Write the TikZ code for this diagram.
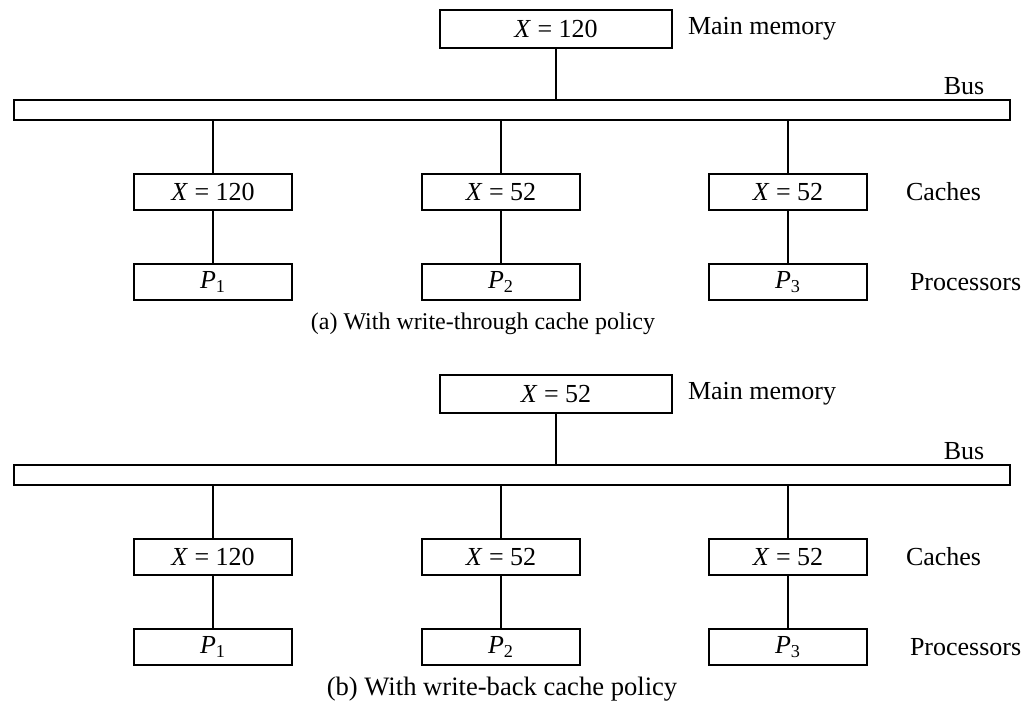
\documentclass[tikz,border=0pt]{standalone}
\usepackage{fontspec}
\setmainfont{Liberation Serif}
\usetikzlibrary{positioning}

\tikzset{
  box/.style={draw,minimum width=79pt,minimum height=18pt,inner sep=0pt},
  membox/.style={box,minimum width=116pt,minimum height=19pt},
  busbox/.style={box,minimum width=498pt,minimum height=10pt},
  lbl/.style={anchor=west,inner sep=0pt}
}

\begin{document}
\begin{tikzpicture}[x=0.5pt,y=-0.5pt,line width=1pt,font=\fontsize{13}{15}\selectfont]
\useasboundingbox (0,0) rectangle (1024,709);
% two panels: write-through above, write-back below
\foreach \p/\dy/\mem/\cx/\fs/\txt in {a/0/120/483/12/{(a) With write-through cache policy},b/365/52/502/13.3/{(b) With write-back cache policy}}{
  \node[membox] (mem\p) at (556,29+\dy) {\textit{X} = \mem};
  \node[lbl,right=7pt of mem\p] {Main memory};
  \node[busbox] (bus\p) at (512,110+\dy) {};
  \node[anchor=east] (buslbl\p) at (992,86+\dy) {Bus};
  \draw (mem\p) -- (mem\p |- bus\p.north);
  \foreach \i/\x/\v in {1/213/120,2/501/52,3/788/52}{
    \node[box] (c\p\i) at (\x,192+\dy) {\textit{X} = \v};
    \node[box] (pr\p\i) at (\x,282+\dy) {\textit{P}\textsubscript{\i}};
    \draw (c\p\i) -- (c\p\i |- bus\p.south);
    \draw (c\p\i) -- (pr\p\i);
  }
  \node[lbl,right=18.5pt of c\p3] {Caches};
  \node[lbl,right=20.5pt of pr\p3] {Processors};
  \node[font=\fontsize{\fs}{15}\selectfont] (cap\p) at (\cx,324+\dy) {\txt};
}
\end{tikzpicture}
\end{document}
